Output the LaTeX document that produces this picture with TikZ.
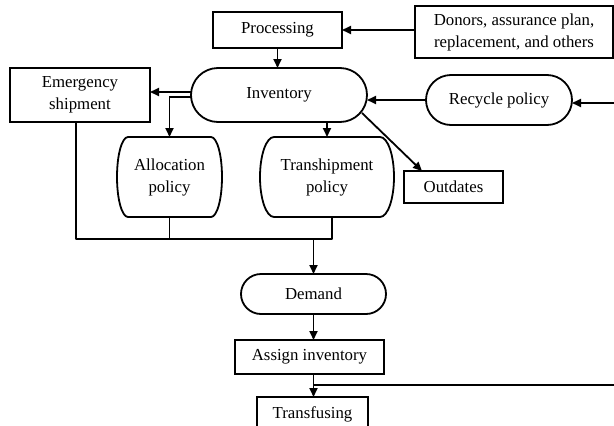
\documentclass[tikz,border=0pt]{standalone}
\usepackage{fontspec}
\setmainfont{Liberation Serif}
\usetikzlibrary{arrows.meta,calc}
\begin{document}
\begin{tikzpicture}[x=1pt,y=-1pt,
  every node/.style={font=\fontsize{16.8}{22}\selectfont, inner sep=0pt, outer sep=0pt, align=center},
  box/.style={draw, line width=1.8pt},
  pill/.style={draw, line width=1.8pt, rounded corners=#1},
  arr/.style={line width=1.8pt, -{Triangle[length=9pt,width=8pt]}},
  ln/.style={line width=1.8pt, line join=round},
]
\useasboundingbox (0,0) rectangle (614,426);
\clip (0,0) rectangle (614,426);

% nodes
\node[box, minimum width=129pt, minimum height=36pt] (proc) at (277.5,30) {Processing};
\node[box, minimum width=198pt, minimum height=52pt] (donors) at (514,32) {Donors, assurance plan,\\replacement, and others};
\node[pill=27pt, minimum width=176pt, minimum height=54pt] (inv) at (279,95) {Inventory};
\node[box, minimum width=140pt, minimum height=54pt] (emerg) at (80,95) {Emergency\\shipment};
\node[pill=25pt, minimum width=146pt, minimum height=50pt] (recycle) at (499,100) {Recycle policy};
\node[minimum width=83pt, minimum height=80pt] (alloc) at (169.5,177) {Allocation\\policy};
\node[minimum width=106pt, minimum height=80pt] (trans) at (327,177) {Transhipment\\policy};
\node[box, minimum width=99pt, minimum height=32pt] (outd) at (453.5,187) {Outdates};
\node[pill=20pt, minimum width=145pt, minimum height=40pt] (demand) at (313.5,294) {Demand};
\node[box, minimum width=149pt, minimum height=34pt] (assign) at (309.5,357) {Assign inventory};
\node[box, minimum width=111pt, minimum height=34pt] (transf) at (312.5,414) {Transfusing};

% barrel outlines
\draw[ln] (alloc.north west) -- (alloc.north east)
  arc[start angle=90,end angle=-90,x radius=11pt,y radius=40pt]
  -- (alloc.south west)
  arc[start angle=270,end angle=90,x radius=11pt,y radius=40pt] -- cycle;
\draw[ln] (trans.north west) -- (trans.north east)
  arc[start angle=90,end angle=-90,x radius=14pt,y radius=40pt]
  -- (trans.south west)
  arc[start angle=270,end angle=90,x radius=14pt,y radius=40pt] -- cycle;

% free ends and junctions
\coordinate (rin) at (614,103);
\coordinate (rout) at (614,385);
\coordinate (jl) at (76,239);
\coordinate (jr) at (332,239);

% connectors
\draw[arr] (donors.west |- proc.east) -- (proc.east);
\draw[arr] (proc.south) -- (proc.south |- inv.north);
\draw[arr] ([yshift=3pt]inv.west) -- ([yshift=3pt]inv.west -| emerg.east);
\draw[arr] ([yshift=-2pt]inv.west) -| (alloc.north);
\draw[arr] (trans.north |- inv.south) -- (trans.north);
\draw[arr] ([xshift=-5pt,yshift=9pt]inv.south east) -- ([xshift=18pt]outd.north west);
\draw[arr] (recycle.west) -- (recycle.west -| inv.east);
\draw[arr] (rin) -- (rin -| recycle.east);

\draw[ln] (emerg.south -| jl) -- (jl) -- (jr) -- (jr |- trans.south);
\draw[ln] (alloc.south) -- (alloc.south |- jl);
\draw[arr] (demand.north |- jl) -- (demand.north);
\draw[arr] (demand.south) -- (demand.south |- assign.north);
\draw[arr] (demand.south |- assign.south) -- (demand.south |- transf.north);
\draw[ln] (rout) -- (rout -| demand.south);
\end{tikzpicture}
\end{document}
